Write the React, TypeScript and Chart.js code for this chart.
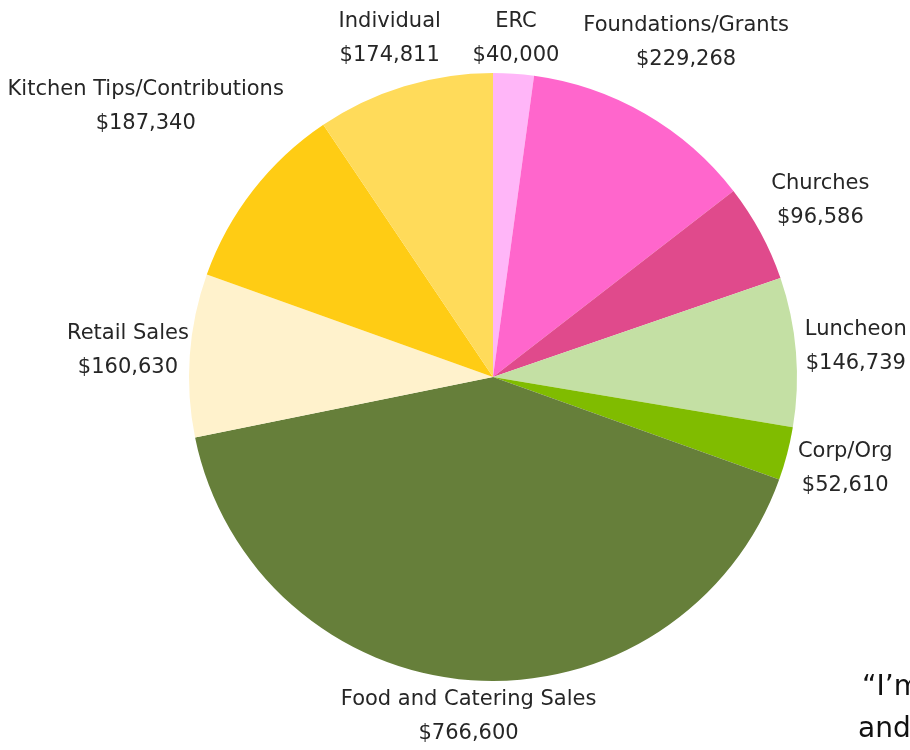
import React, { useEffect, useRef } from "react";
import { Chart, registerables } from "chart.js";

Chart.register(...registerables);

const categories = [
  "ERC",
  "Foundations/Grants",
  "Churches",
  "Luncheon",
  "Corp/Org",
  "Food and Catering Sales",
  "Retail Sales",
  "Kitchen Tips/Contributions",
  "Individual",
];
const amounts = [40000, 229268, 96586, 146739, 52610, 766600, 160630, 187340, 174811];
const valueLabels = [
  "$40,000",
  "$229,268",
  "$96,586",
  "$146,739",
  "$52,610",
  "$766,600",
  "$160,630",
  "$187,340",
  "$174,811",
];
const sliceColors = [
  "#FFB6F8",
  "#FF66CC",
  "#E04A8C",
  "#C4E0A4",
  "#80BC00",
  "#667F3A",
  "#FFF2CC",
  "#FFCC14",
  "#FFDB5A",
];
// extra radial distance (px beyond the pie edge) for each label's centre
const labelGap = [35, 82, 68, 60, 60, 36, 62, 136, 50];

const labelPlugin = {
  id: "pieLabels",
  afterDraw(chart: any) {
    const ctx = chart.ctx;
    const meta = chart.getDatasetMeta(0);
    ctx.save();
    ctx.fillStyle = "#262626";
    ctx.font = "21px 'DejaVu Sans'";
    ctx.textAlign = "center";
    ctx.textBaseline = "middle";
    meta.data.forEach((arc: any, i: number) => {
      const p = arc.getProps(["x", "y", "startAngle", "endAngle", "outerRadius"], true);
      const mid = (p.startAngle + p.endAngle) / 2;
      const d = p.outerRadius + labelGap[i];
      const cx = p.x + Math.cos(mid) * d;
      const cy = p.y + Math.sin(mid) * d;
      ctx.fillText(categories[i], cx, cy - 17);
      ctx.fillText(valueLabels[i], cx, cy + 17);
    });
    ctx.font = "28px 'DejaVu Sans'";
    ctx.textAlign = "left";
    ctx.fillStyle = "#111";
    ctx.fillText("\u201CI\u2019m", 862, 688);
    ctx.fillText("and", 858, 730);
    ctx.restore();
  },
};

export default function App() {
  const ref = useRef<HTMLCanvasElement>(null);
  useEffect(() => {
    const chart = new Chart(ref.current!, {
      type: "pie",
      data: {
        labels: categories,
        datasets: [
          {
            data: amounts,
            backgroundColor: sliceColors,
            borderWidth: 0,
          },
        ],
      },
      options: {
        responsive: false,
        animation: false,
        layout: { padding: { left: 189, right: 113, top: 73, bottom: 69 } },
        plugins: {
          legend: { display: false },
          tooltip: { enabled: false },
        },
      },
      plugins: [labelPlugin],
    });
    return () => chart.destroy();
  }, []);
  return (
    <div style={{ position: "absolute", left: 0, top: 0, width: 910, height: 750, background: "#fff" }}>
      <canvas ref={ref} width={910} height={750} />
    </div>
  );
}
